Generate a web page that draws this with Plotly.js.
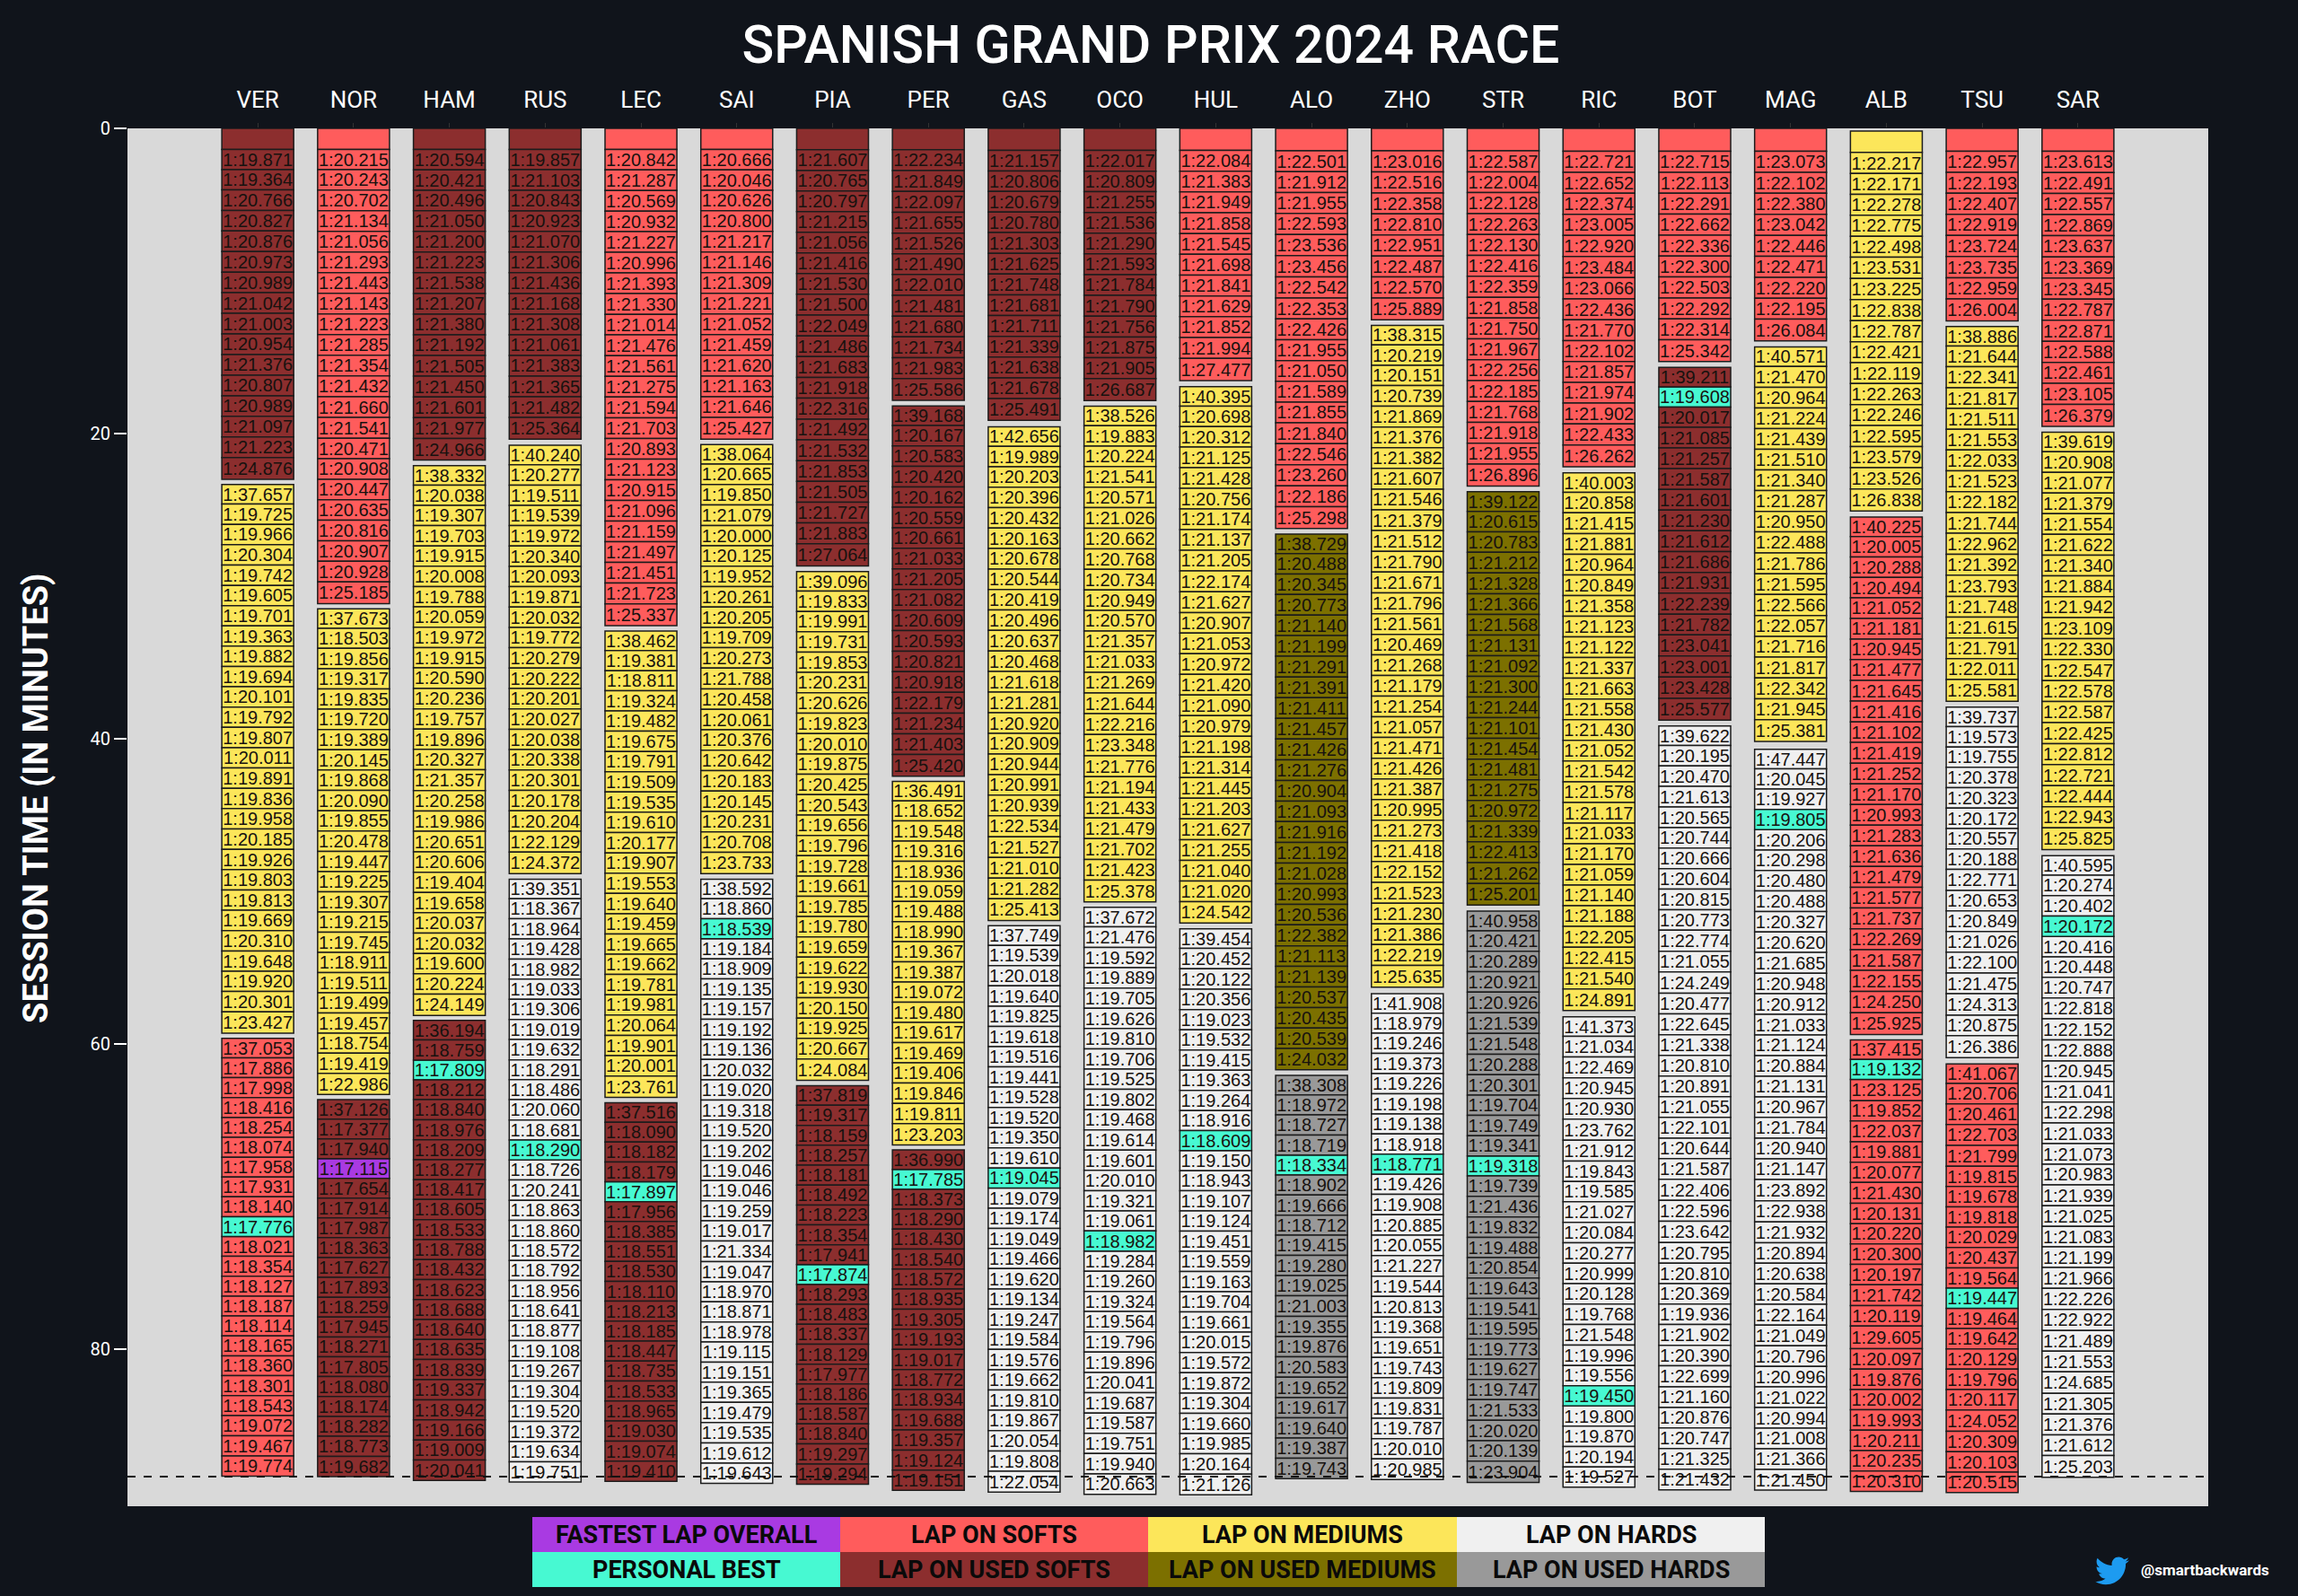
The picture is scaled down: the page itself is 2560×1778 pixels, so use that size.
<!DOCTYPE html>
<html>
<head>
<meta charset="utf-8">
<title>Spanish Grand Prix 2024 Race</title>
<script src="https://cdn.plot.ly/plotly-3.0.1.min.js"></script>
<style>
  html, body { margin: 0; padding: 0; background: #10141b; }
</style>
</head>
<body>
<div id="plot"></div>
<script>
// Lap times in seconds, one inner list per stint. null = lap 1 (no time shown)
const lapsVER = [
  [null,79.871,79.364,80.766,80.827,80.876,80.973,80.989,81.042,81.003,80.954,81.376,80.807,80.989,81.097,81.223,84.876],
  [97.657,79.725,79.966,80.304,79.742,79.605,79.701,79.363,79.882,79.694,80.101,79.792,79.807,80.011,79.891,79.836,79.958,80.185,79.926,79.803,79.813,79.669,80.310,79.648,79.920,80.301,83.427],
  [97.053,77.886,77.998,78.416,78.254,78.074,77.958,77.931,78.140,77.776,78.021,78.354,78.127,78.187,78.114,78.165,78.360,78.301,78.543,79.072,79.467,79.774]
];
const lapsNOR = [
  [null,80.215,80.243,80.702,81.134,81.056,81.293,81.443,81.143,81.223,81.285,81.354,81.432,81.660,81.541,80.471,80.908,80.447,80.635,80.816,80.907,80.928,85.185],
  [97.673,78.503,79.856,79.317,79.835,79.720,79.389,80.145,79.868,80.090,79.855,80.478,79.447,79.225,79.307,79.215,79.745,78.911,79.511,79.499,79.457,78.754,79.419,82.986],
  [97.126,77.377,77.940,77.115,77.654,77.914,77.987,78.363,77.627,77.893,78.259,77.945,78.271,77.805,78.080,78.174,78.282,78.773,79.682]
];
const lapsHAM = [
  [null,80.594,80.421,80.496,81.050,81.200,81.223,81.538,81.207,81.380,81.192,81.505,81.450,81.601,81.977,84.966],
  [98.332,80.038,79.307,79.703,79.915,80.008,79.788,80.059,79.972,79.915,80.590,80.236,79.757,79.896,80.327,81.357,80.258,79.986,80.651,80.606,79.404,79.658,80.037,80.032,79.600,80.224,84.149],
  [96.194,78.759,77.809,78.212,78.840,78.976,78.209,78.277,78.417,78.605,78.533,78.788,78.432,78.623,78.688,78.640,78.635,78.839,79.337,78.942,79.166,79.009,80.041]
];
const lapsRUS = [
  [null,79.857,81.103,80.843,80.923,81.070,81.306,81.436,81.168,81.308,81.061,81.383,81.365,81.482,85.364],
  [100.240,80.277,79.511,79.539,79.972,80.340,80.093,79.871,80.032,79.772,80.279,80.222,80.201,80.027,80.038,80.338,80.301,80.178,80.204,82.129,84.372],
  [99.351,78.367,78.964,79.428,78.982,79.033,79.306,79.019,79.632,78.291,78.486,80.060,78.681,78.290,78.726,80.241,78.863,78.860,78.572,78.792,78.956,78.641,78.877,79.108,79.267,79.304,79.520,79.372,79.634,79.751]
];
const lapsLEC = [
  [null,80.842,81.287,80.569,80.932,81.227,80.996,81.393,81.330,81.014,81.476,81.561,81.275,81.594,81.703,80.893,81.123,80.915,81.096,81.159,81.497,81.451,81.723,85.337],
  [98.462,79.381,78.811,79.324,79.482,79.675,79.791,79.509,79.535,79.610,80.177,79.907,79.553,79.640,79.459,79.665,79.662,79.781,79.981,80.064,79.901,80.001,83.761],
  [97.516,78.090,78.182,78.179,77.897,77.956,78.385,78.551,78.530,78.110,78.213,78.185,78.447,78.735,78.533,78.965,79.030,79.074,79.410]
];
const lapsSAI = [
  [null,80.666,80.046,80.626,80.800,81.217,81.146,81.309,81.221,81.052,81.459,81.620,81.163,81.646,85.427],
  [98.064,80.665,79.850,81.079,80.000,80.125,79.952,80.261,80.205,79.709,80.273,81.788,80.458,80.061,80.376,80.642,80.183,80.145,80.231,80.708,83.733],
  [98.592,78.860,78.539,79.184,78.909,79.135,79.157,79.192,79.136,80.032,79.020,79.318,79.520,79.202,79.046,79.046,79.259,79.017,81.334,79.047,78.970,78.871,78.978,79.115,79.151,79.365,79.479,79.535,79.612,79.643]
];
const lapsPIA = [
  [null,81.607,80.765,80.797,81.215,81.056,81.416,81.530,81.500,82.049,81.486,81.683,81.918,82.316,81.492,81.532,81.853,81.505,81.727,81.883,87.064],
  [99.096,79.833,79.991,79.731,79.853,80.231,80.626,79.823,80.010,79.875,80.425,80.543,79.656,79.796,79.728,79.661,79.785,79.780,79.659,79.622,79.930,80.150,79.925,80.667,84.084],
  [97.819,79.317,78.159,78.257,78.181,78.492,78.223,78.354,77.941,77.874,78.293,78.483,78.337,78.129,77.977,78.186,78.587,78.840,79.297,79.294]
];
const lapsPER = [
  [null,82.234,81.849,82.097,81.655,81.526,81.490,82.010,81.481,81.680,81.734,81.983,85.586],
  [99.168,80.167,80.583,80.420,80.162,80.559,80.661,81.033,81.205,81.082,80.609,80.593,80.821,80.918,82.179,81.234,81.403,85.420],
  [96.491,78.652,79.548,79.316,78.936,79.059,79.488,78.990,79.367,79.387,79.072,79.480,79.617,79.469,79.406,79.846,79.811,83.203],
  [96.990,77.785,78.373,78.290,78.430,78.540,78.572,78.935,79.305,79.193,79.017,78.772,78.934,79.688,79.357,79.124,79.151]
];
const lapsGAS = [
  [null,81.157,80.806,80.679,80.780,81.303,81.625,81.748,81.681,81.711,81.339,81.638,81.678,85.491],
  [102.656,79.989,80.203,80.396,80.432,80.163,80.678,80.544,80.419,80.496,80.637,80.468,81.618,81.281,80.920,80.909,80.944,80.991,80.939,82.534,81.527,81.010,81.282,85.413],
  [97.749,79.539,80.018,79.640,79.825,79.618,79.516,79.441,79.528,79.520,79.350,79.610,79.045,79.079,79.174,79.049,79.466,79.620,79.134,79.247,79.584,79.576,79.662,79.810,79.867,80.054,79.808,82.054]
];
const lapsOCO = [
  [null,82.017,80.809,81.255,81.536,81.290,81.593,81.784,81.790,81.756,81.875,81.905,86.687],
  [98.526,79.883,80.224,81.541,80.571,81.026,80.662,80.768,80.734,80.949,80.570,81.357,81.033,81.269,81.644,82.216,83.348,81.776,81.194,81.433,81.479,81.702,81.423,85.378],
  [97.672,81.476,79.592,79.889,79.705,79.626,79.810,79.706,79.525,79.802,79.468,79.614,79.601,80.010,79.321,79.061,78.982,79.284,79.260,79.324,79.564,79.796,79.896,80.041,79.687,79.587,79.751,79.940,80.663]
];
const lapsHUL = [
  [null,82.084,81.383,81.949,81.858,81.545,81.698,81.841,81.629,81.852,81.994,87.477],
  [100.395,80.698,80.312,81.125,81.428,80.756,81.174,81.137,81.205,82.174,81.627,80.907,81.053,80.972,81.420,81.090,80.979,81.198,81.314,81.445,81.203,81.627,81.255,81.040,81.020,84.542],
  [99.454,80.452,80.122,80.356,79.023,79.532,79.415,79.363,79.264,78.916,78.609,79.150,78.943,79.107,79.124,79.451,79.559,79.163,79.704,79.661,80.015,79.572,79.872,79.304,79.660,79.985,80.164,81.126]
];
const lapsALO = [
  [null,82.501,81.912,81.955,82.593,83.536,83.456,82.542,82.353,82.426,81.955,81.050,81.589,81.855,81.840,82.546,83.260,82.186,85.298],
  [98.729,80.488,80.345,80.773,81.140,81.199,81.291,81.391,81.411,81.457,81.426,81.276,80.904,81.093,81.916,81.192,81.028,80.993,80.536,82.382,81.113,81.139,80.537,80.435,80.539,84.032],
  [98.308,78.972,78.727,78.719,78.334,78.902,79.666,78.712,79.415,79.280,79.025,81.003,79.355,79.876,80.583,79.652,79.617,79.640,79.387,79.743]
];
const lapsZHO = [
  [null,83.016,82.516,82.358,82.810,82.951,82.487,82.570,85.889],
  [98.315,80.219,80.151,80.739,81.869,81.376,81.382,81.607,81.546,81.379,81.512,81.790,81.671,81.796,81.561,80.469,81.268,81.179,81.254,81.057,81.471,81.426,81.387,80.995,81.273,81.418,82.152,81.523,81.230,81.386,82.219,85.635],
  [101.908,78.979,79.246,79.373,79.226,79.198,79.138,78.918,78.771,79.426,79.908,80.885,80.055,81.227,79.544,80.813,79.368,79.651,79.743,79.809,79.831,79.787,80.010,80.985]
];
const lapsSTR = [
  [null,82.587,82.004,82.128,82.263,82.130,82.416,82.359,81.858,81.750,81.967,82.256,82.185,81.768,81.918,81.955,86.896],
  [99.122,80.615,80.783,81.212,81.328,81.366,81.568,81.131,81.092,81.300,81.244,81.101,81.454,81.481,81.275,80.972,81.339,82.413,81.262,85.201],
  [100.958,80.421,80.289,80.921,80.926,81.539,81.548,80.288,80.301,79.704,79.749,79.341,79.318,79.739,81.436,79.832,79.488,80.854,79.643,79.541,79.595,79.773,79.627,79.747,81.533,80.020,80.139,83.904]
];
const lapsRIC = [
  [null,82.721,82.652,82.374,83.005,82.920,83.484,83.066,82.436,81.770,82.102,81.857,81.974,81.902,82.433,86.262],
  [100.003,80.858,81.415,81.881,80.964,80.849,81.358,81.123,81.122,81.337,81.663,81.558,81.430,81.052,81.542,81.578,81.117,81.033,81.170,81.059,81.140,81.188,82.205,82.415,81.540,84.891],
  [101.373,81.034,82.469,80.945,80.930,83.762,81.912,79.843,79.585,81.027,80.084,80.277,80.999,80.128,79.768,81.548,79.996,79.556,79.450,79.800,79.870,80.194,79.527]
];
const lapsBOT = [
  [null,82.715,82.113,82.291,82.662,82.336,82.300,82.503,82.292,82.314,85.342],
  [99.211,79.608,80.017,81.085,81.257,81.587,81.601,81.230,81.612,81.686,81.931,82.239,81.782,83.041,83.001,83.428,85.577],
  [99.622,80.195,80.470,81.613,80.565,80.744,80.666,80.604,80.815,80.773,82.774,81.055,84.249,80.477,82.645,81.338,80.810,80.891,81.055,82.101,80.644,81.587,82.406,82.596,83.642,80.795,80.810,80.369,79.936,81.902,80.390,82.699,81.160,80.876,80.747,81.325,81.432]
];
const lapsMAG = [
  [null,83.073,82.102,82.380,83.042,82.446,82.471,82.220,82.195,86.084],
  [100.571,81.470,80.964,81.224,81.439,81.510,81.340,81.287,80.950,82.488,81.786,81.595,82.566,82.057,81.716,81.817,82.342,81.945,85.381],
  [107.447,80.045,79.927,79.805,80.206,80.298,80.480,80.488,80.327,80.620,81.685,80.948,80.912,81.033,81.124,80.884,81.131,80.967,81.784,80.940,81.147,83.892,82.938,81.932,80.894,80.638,80.584,82.164,81.049,80.796,80.996,81.022,80.994,81.008,81.366,81.450]
];
const lapsALB = [
  [null,82.217,82.171,82.278,82.775,82.498,83.531,83.225,82.838,82.787,82.421,82.119,82.263,82.246,82.595,83.579,83.526,86.838],
  [100.225,80.005,80.288,80.494,81.052,81.181,80.945,81.477,81.645,81.416,81.102,81.419,81.252,81.170,80.993,81.283,81.636,81.479,81.577,81.737,82.269,81.587,82.155,84.250,85.925],
  [97.415,79.132,83.125,79.852,82.037,79.881,80.077,81.430,80.131,80.220,80.300,80.197,81.742,80.119,89.605,80.097,79.876,80.002,79.993,80.211,80.235,80.310]
];
const lapsTSU = [
  [null,82.957,82.193,82.407,82.919,83.724,83.735,82.959,86.004],
  [98.886,81.644,82.341,81.817,81.511,81.553,82.033,81.523,82.182,81.744,82.962,81.392,83.793,81.748,81.615,81.791,82.011,85.581],
  [99.737,79.573,79.755,80.378,80.323,80.172,80.557,80.188,82.771,80.653,80.849,81.026,82.100,81.475,84.313,80.875,86.386],
  [101.067,80.706,80.461,82.703,81.799,79.815,79.678,79.818,80.029,80.437,79.564,79.447,79.464,79.642,80.129,79.796,80.117,84.052,80.309,80.103,80.515]
];
const lapsSAR = [
  [null,83.613,82.491,82.557,82.869,83.637,83.369,83.345,82.787,82.871,82.588,82.461,83.105,86.379],
  [99.619,80.908,81.077,81.379,81.554,81.622,81.340,81.884,81.942,83.109,82.330,82.547,82.578,82.587,82.425,82.812,82.721,82.444,82.943,85.825],
  [100.595,80.274,80.402,80.172,80.416,80.448,80.747,82.818,82.152,82.888,80.945,81.041,82.298,81.033,81.073,80.983,81.939,81.025,81.083,81.199,81.966,82.226,82.922,81.489,81.553,84.685,81.305,81.376,81.612,85.203]
];

const drivers = ["VER","NOR","HAM","RUS","LEC","SAI","PIA","PER","GAS","OCO","HUL","ALO","ZHO","STR","RIC","BOT","MAG","ALB","TSU","SAR"];
const allLaps = [lapsVER,lapsNOR,lapsHAM,lapsRUS,lapsLEC,lapsSAI,lapsPIA,lapsPER,lapsGAS,lapsOCO,lapsHUL,lapsALO,lapsZHO,lapsSTR,lapsRIC,lapsBOT,lapsMAG,lapsALB,lapsTSU,lapsSAR];

// Tyre per stint: S/M/H new, SU/MU/HU used
const allTyres = [
  ["SU","M","S"],["S","M","SU"],["SU","M","SU"],["SU","M","H"],["S","M","SU"],
  ["S","M","H"],["SU","M","SU"],["SU","SU","M","SU"],["SU","M","H"],["SU","M","H"],
  ["S","M","H"],["S","MU","HU"],["S","M","H"],["S","MU","HU"],["S","M","H"],
  ["S","SU","H"],["S","M","H"],["M","S","S"],["S","M","H","S"],["S","M","H"]
];

const personalBest = [77.776,77.115,77.809,78.290,77.897,78.539,77.874,77.785,79.045,78.982,78.609,78.334,78.771,79.318,79.450,79.608,79.805,79.132,79.447,80.172];
const fastestLap = 77.115;

// Session time (minutes) at the start and end of lap 1
const lapOneStart = [0,0,0,0,0,0,0,0,0,0,0,0,0,0,0,0,0,0.18,0,0];
const lapOneEnd = [1.376,1.376,1.376,1.376,1.376,1.376,1.40,1.40,1.44,1.44,1.44,1.47,1.47,1.47,1.50,1.50,1.50,1.58,1.50,1.50];

// Drawn length of an out lap, what is left of it goes to the gap of the pit stop
const outLapBar = 1.28;
const raceEnd = 88.35;

const legendLabels = ["FASTEST LAP OVERALL","LAP ON SOFTS","LAP ON MEDIUMS","LAP ON HARDS","PERSONAL BEST","LAP ON USED SOFTS","LAP ON USED MEDIUMS","LAP ON USED HARDS"];
const legendKeys = ["FL","S","M","H","PB","SU","MU","HU"];
const colors = {FL:"#a93ae2",PB:"#47f9d2",S:"#ff5c5c",SU:"#8c2e2e",M:"#fce65a",MU:"#7c7000",H:"#f0f0f0",HU:"#999999"};

// one bar trace per colour
let series = {};
legendKeys.forEach(k => { series[k] = {x: [], y: [], base: [], text: []}; });

function fmtLap(sec) {
  let m = Math.floor(sec / 60);
  let s = (sec - m * 60).toFixed(3);
  return m + ":" + (s.length < 6 ? "0" + s : s);
}

drivers.forEach((d, i) => {
  let t = lapOneStart[i];
  allLaps[i].forEach((stint, j) => {
    stint.forEach((lap, n) => {
      let start, end;
      if (lap === null) {
        start = lapOneStart[i];
        end = lapOneEnd[i];
      } else {
        end = t + lap / 60;
        start = (n === 0) ? end - outLapBar : t;
      }
      t = end;
      let key = allTyres[i][j];
      if (lap === fastestLap) key = "FL";
      else if (lap === personalBest[i]) key = "PB";
      let s = series[key];
      s.x.push(d);
      s.base.push(start);
      s.y.push(end - start);
      s.text.push(lap === null ? "" : fmtLap(lap));
    });
  });
});

let data = legendKeys.map(k => ({
  type: "bar",
  x: series[k].x,
  y: series[k].y,
  base: series[k].base,
  text: series[k].text,
  width: 0.75,
  textposition: "inside",
  insidetextanchor: "middle",
  constraintext: "none",
  textangle: 0,
  textfont: {family: "Liberation Sans", size: 20, color: "#17120f"},
  marker: {color: colors[k], line: {color: "#1c1c1c", width: 1.5}},
  hoverinfo: "skip",
  showlegend: false
}));

// plot area in page pixels
const W = 2560, H = 1778, L = 142, R = 2460, T = 143, B = 1678;
const px = v => (v - L) / (R - L);
const py = v => 1 - (v - T) / (B - T);

// legend grid under the plot
const cellX = [593, 936, 1279, 1623, 1966];
const cellY = [1690, 1729, 1768];
let shapes = [{
  type: "line", xref: "paper", x0: 0, x1: 1, yref: "y", y0: raceEnd, y1: raceEnd,
  line: {color: "#111111", width: 2, dash: "dash"}, layer: "above"
}];
let annotations = [];
legendLabels.forEach((label, i) => {
  let col = i % 4, row = Math.floor(i / 4);
  shapes.push({
    type: "rect", xref: "paper", yref: "paper",
    x0: px(cellX[col]), x1: px(cellX[col + 1]), y0: py(cellY[row]), y1: py(cellY[row + 1]),
    fillcolor: colors[legendKeys[i]], line: {width: 0}
  });
  annotations.push({
    xref: "paper", yref: "paper", showarrow: false,
    xanchor: "center", yanchor: "middle",
    x: px((cellX[col] + cellX[col + 1]) / 2), y: py((cellY[row] + cellY[row + 1]) / 2),
    text: label, font: {family: "Roboto", size: 27, weight: 700, color: "#0a0a0a"}
  });
});
annotations.push({
  xref: "paper", yref: "paper", showarrow: false, xanchor: "left", yanchor: "middle",
  x: px(2383), y: py(1749), text: "@smartbackwards",
  font: {family: "Roboto", size: 17, weight: 700, color: "#ffffff"}
});
// y axis title, sits a bit above the middle of the axis in the reference
annotations.push({
  xref: "paper", yref: "paper", showarrow: false, xanchor: "center", yanchor: "middle",
  x: px(40), y: py(890), textangle: -90, text: "SESSION TIME (IN MINUTES)",
  font: {family: "Roboto", size: 38, weight: 700, color: "#ffffff"}
});

const bird = "M24 4.6c-.9.4-1.8.7-2.8.8 1-.6 1.8-1.6 2.2-2.7-1 .6-2 1-3.1 1.2C19.3 2.8 18 2.2 16.6 2.2c-2.7 0-4.9 2.2-4.9 4.9 0 .4 0 .8.1 1.1C7.7 8 4.1 6 1.7 3c-.4.7-.7 1.6-.7 2.5 0 1.7.9 3.2 2.2 4.1-.8 0-1.6-.2-2.2-.6v.1c0 2.4 1.7 4.4 3.9 4.8-.4.1-.8.2-1.3.2-.3 0-.6 0-.9-.1.6 2 2.4 3.4 4.6 3.4-1.7 1.3-3.8 2.1-6.1 2.1-.4 0-.8 0-1.2-.1 2.2 1.4 4.8 2.2 7.5 2.2 9.1 0 14-7.5 14-14v-.6c1-.7 1.8-1.6 2.5-2.5z";
const birdSvg = "data:image/svg+xml," + encodeURIComponent('<svg xmlns="http://www.w3.org/2000/svg" viewBox="0 0 24 24"><path fill="#1d9bf0" d="' + bird + '"/></svg>');

let layout = {
  width: W,
  height: H,
  paper_bgcolor: "#10141b",
  plot_bgcolor: "#d9d9d9",
  margin: {l: L, r: W - R, t: T, b: H - B, pad: 0},
  barmode: "overlay",
  title: {
    text: "SPANISH GRAND PRIX 2024 RACE",
    font: {family: "Roboto", size: 59, weight: 500, color: "#ffffff"},
    xref: "container", x: 1282 / W, xanchor: "center",
    yref: "container", y: 1 - 49 / H, yanchor: "middle"
  },
  xaxis: {
    type: "category",
    categoryorder: "array",
    categoryarray: drivers,
    side: "top",
    range: [-1.36, 20.36],
    showgrid: false,
    zeroline: false,
    ticks: "outside",
    ticklen: 5,
    tickwidth: 1,
    tickcolor: "#333333",
    ticklabelstandoff: 7,
    tickfont: {family: "Roboto", size: 26, color: "#ffffff"}
  },
  yaxis: {
    range: [(B - T) / 17, 0],
    tickvals: [0, 20, 40, 60, 80],
    showgrid: false,
    zeroline: false,
    ticks: "outside",
    ticklen: 14,
    tickwidth: 1.5,
    tickcolor: "#ffffff",
    tickfont: {family: "Roboto", size: 20, color: "#ffffff"}
  },
  shapes: shapes,
  annotations: annotations,
  images: [{
    source: birdSvg, xref: "paper", yref: "paper",
    x: px(2334), y: py(1731), sizex: 38 / (R - L), sizey: 38 / (B - T),
    xanchor: "left", yanchor: "top", sizing: "contain", layer: "above"
  }]
};

Plotly.newPlot("plot", data, layout, {displayModeBar: false, responsive: false});
</script>
</body>
</html>
